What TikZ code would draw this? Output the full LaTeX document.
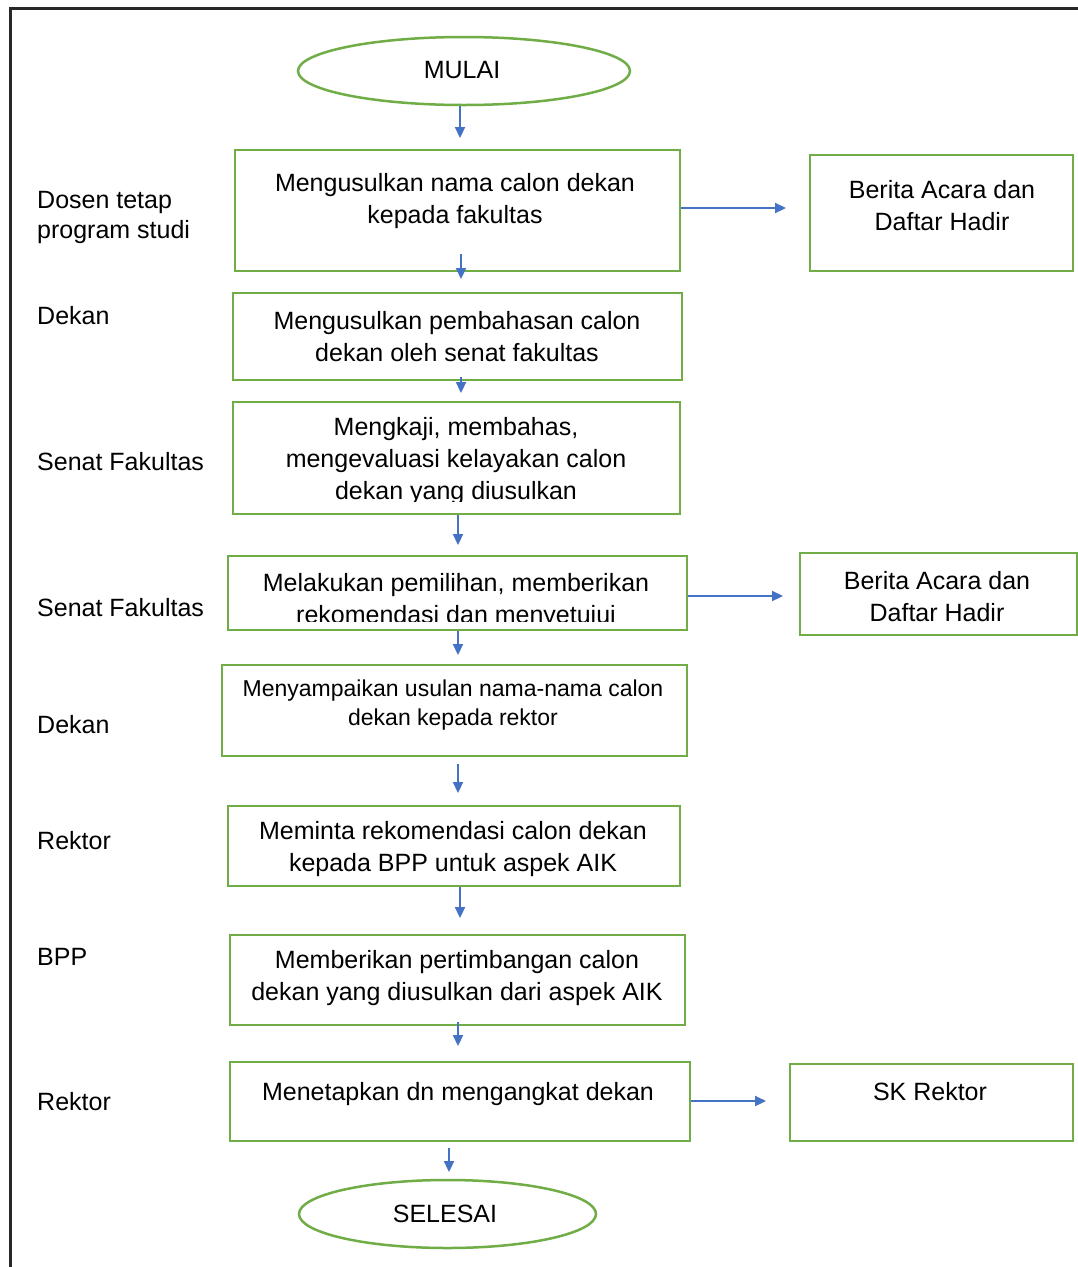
\documentclass[tikz,border=0pt]{standalone}
\usepackage{fontspec}
\setmainfont{Liberation Sans}
\usetikzlibrary{shapes.geometric,arrows.meta}
\definecolor{boxgreen}{RGB}{112,173,71}
\definecolor{arrblue}{RGB}{68,114,196}
\definecolor{framegray}{RGB}{40,40,40}
\newcommand\fmain{\fontsize{25}{32}\selectfont}
\newcommand\fsmaller{\fontsize{23}{29}\selectfont}
\newcommand\flab{\fontsize{25}{30}\selectfont}
\begin{document}
\begin{tikzpicture}[x=1pt,y=-1pt,
  box/.style={draw=boxgreen,line width=2pt,rectangle,inner sep=0pt},
  term/.style={draw=boxgreen,line width=2.5pt,ellipse,inner sep=0pt,font=\fmain},
  txt/.style={inner sep=0pt,align=center,font=\fmain},
  txtone/.style={inner sep=0pt,font=\fmain,text height=18pt,text depth=5pt},
  lab/.style={inner sep=0pt,align=left,anchor=west,font=\flab},
  labone/.style={inner sep=0pt,anchor=west,font=\flab,text height=18pt,text depth=5pt},
  arr/.style={draw=arrblue,line width=2.2pt,-{Triangle[length=11pt,width=10pt]}},
]
\useasboundingbox (0,0) rectangle (1078,1267);
\fill[white] (0,0) rectangle (1078,1267);
% outer frame (top and left edges visible)
\draw[framegray,line width=3pt] (10,1275) -- (10,8) -- (1085,8);

% terminals
\node[term,minimum width=332pt,minimum height=68pt] (m) at (464,71) {};
\node[txtone] (mt) at (462,72) {MULAI};
\node[term,minimum width=297pt,minimum height=68pt] (s) at (447.5,1214) {};
\node[txtone] (st) at (445,1216) {SELESAI};

% process boxes
\node[box,minimum width=445pt,minimum height=121pt] (b1) at (457.5,210.5) {};
\node[box,minimum width=449pt,minimum height=87pt]  (b2) at (457.5,336.5) {};
\node[box,minimum width=447pt,minimum height=112pt] (b3) at (456.5,458) {};
\node[box,minimum width=459pt,minimum height=74pt]  (b4) at (457.5,593) {};
\node[box,minimum width=465pt,minimum height=91pt]  (b5) at (454.5,710.5) {};
\node[box,minimum width=452pt,minimum height=80pt]  (b6) at (454,846) {};
\node[box,minimum width=455pt,minimum height=90pt]  (b7) at (457.5,980) {};
\node[box,minimum width=460pt,minimum height=79pt]  (b8) at (460,1101.5) {};

% document boxes
\node[box,minimum width=263pt,minimum height=116pt] (d1) at (941.5,213) {};
\node[box,minimum width=277pt,minimum height=82pt]  (d2) at (938.5,594) {};
\node[box,minimum width=283pt,minimum height=77pt]  (d3) at (931.5,1102.5) {};

% texts
\node[txt] (t1) at (455,201) {Mengusulkan nama calon dekan\\kepada fakultas};
\node[txt] (t2) at (457,337) {Mengusulkan pembahasan calon\\dekan oleh senat fakultas};
\begin{scope}
  \clip (b3.north west) rectangle (b3.east |- 0,501);
  \node[txt] (t3) at (456,461.5) {Mengkaji, membahas,\\mengevaluasi kelayakan calon\\dekan yang diusulkan};
\end{scope}
\begin{scope}
  \clip (b4.north west) rectangle (b4.east |- 0,621);
  \node[txt] (t4) at (456,601) {Melakukan pemilihan, memberikan\\rekomendasi dan menyetujui};
\end{scope}
\node[txt,font=\fsmaller] (t5) at (453,705) {Menyampaikan usulan nama-nama calon\\dekan kepada rektor};
\node[txt] (t6) at (453,849.5) {Meminta rekomendasi calon dekan\\kepada BPP untuk aspek AIK};
\node[txt] (t7) at (457,978.5) {Memberikan pertimbangan calon\\dekan yang diusulkan dari aspek AIK};
\node[txtone] (t8) at (458,1093.5) {Menetapkan dn mengangkat dekan};

\node[txt] (u1) at (942,205.5) {Berita Acara dan\\Daftar Hadir};
\node[txt] (u2) at (937,596.5) {Berita Acara dan\\Daftar Hadir};
\node[txtone] (u3) at (930,1093.5) {SK Rektor};

% lane labels
\node[lab] (l1) at (37,217) {Dosen tetap\\program studi};
\node[labone] (l2) at (37,318) {Dekan};
\node[labone] (l3) at (37,464) {Senat Fakultas};
\node[labone] (l4) at (37,610) {Senat Fakultas};
\node[labone] (l5) at (37,727) {Dekan};
\node[labone] (l6) at (37,843) {Rektor};
\node[labone] (l7) at (37,959) {BPP};
\node[labone] (l8) at (37,1104) {Rektor};

% vertical arrows
\coordinate (e1) at (460,138);
\draw[arr] (m.south -| e1) -- (e1);
\coordinate (e2) at (461,279);
\path ([yshift=18pt]b1.south) coordinate (s2);
\draw[arr] (s2 -| e2) -- (e2);
\coordinate (e3) at (461,393);
\path ([yshift=4pt]b2.south) coordinate (s3);
\draw[arr] (s3 -| e3) -- (e3);
\coordinate (e4) at (458,545);
\draw[arr] (b3.south -| e4) -- (e4);
\coordinate (e5) at (458,655);
\draw[arr] (b4.south -| e5) -- (e5);
\coordinate (e6) at (458,793);
\path ([yshift=-7pt]b5.south) coordinate (s6);
\draw[arr] (s6 -| e6) -- (e6);
\coordinate (e7) at (460,918);
\draw[arr] (b6.south -| e7) -- (e7);
\coordinate (e8) at (458,1046);
\path ([yshift=4pt]b7.south) coordinate (s8);
\draw[arr] (s8 -| e8) -- (e8);
\coordinate (e9) at (449,1172);
\path ([yshift=-6pt]b8.south) coordinate (s9);
\draw[arr] (s9 -| e9) -- (e9);

% horizontal arrows
\coordinate (h1) at (786,208);
\draw[arr] (b1.east |- h1) -- (h1);
\coordinate (h2) at (783,596);
\draw[arr] (b4.east |- h2) -- (h2);
\coordinate (h3) at (766,1101);
\draw[arr] (b8.east |- h3) -- (h3);
\end{tikzpicture}
\end{document}
